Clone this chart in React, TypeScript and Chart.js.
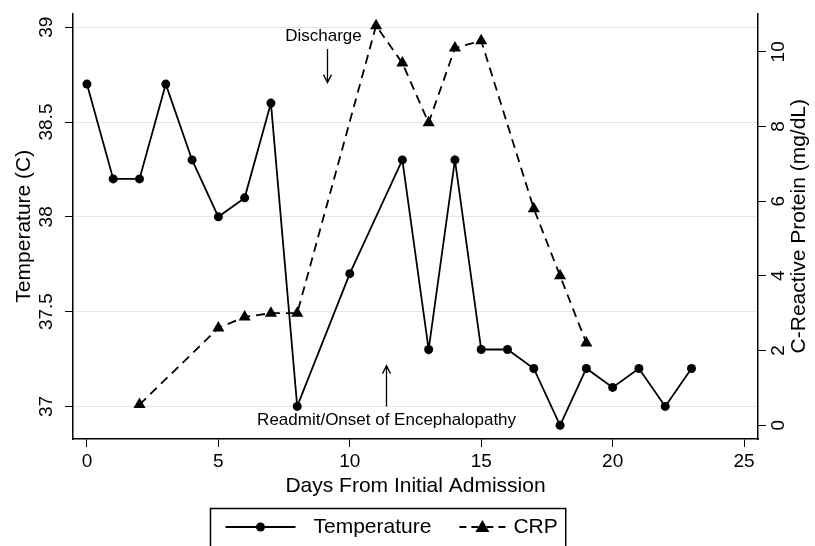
import React, { useEffect, useRef } from "react";
import { Chart, registerables } from "chart.js";

Chart.register(...registerables);

// ---- data ----
const tempDays = [0, 1, 2, 3, 4, 5, 6, 7, 8, 10, 12, 13, 14, 15, 16, 17, 18, 19, 20, 21, 22, 23];
const tempValues = [38.7, 38.2, 38.2, 38.7, 38.3, 38.0, 38.1, 38.6, 37.0, 37.7, 38.3, 37.3, 38.3, 37.3, 37.3, 37.2, 36.9, 37.2, 37.1, 37.2, 37.0, 37.2];
const crpDays = [2, 5, 6, 7, 8, 11, 12, 13, 14, 15, 17, 18, 19];
const crpValues = [0.55, 2.6, 2.9, 3.0, 3.0, 10.7, 9.7, 8.1, 10.1, 10.3, 5.8, 4.0, 2.2];
const dayTicks = [0, 5, 10, 15, 20, 25];
const tempTicks = [37, 37.5, 38, 38.5, 39];
const crpTicks = [0, 2, 4, 6, 8, 10];
const seriesNames = ["Temperature", "CRP"];
const axisTitles = ["Days From Initial Admission", "Temperature (C)", "C-Reactive Protein (mg/dL)"];
// annotations: label, text position (day, temperature), arrow (day, from temp, to temp)
const annotationLabels = ["Discharge", "Readmit/Onset of Encephalopathy"];
const annotationTextDay = [9.0, 11.4];
const annotationTextTemp = [38.953, 36.927];
const annotationArrowDay = [9.13, 11.38];
const annotationArrowFrom = [38.885, 37.0];
const annotationArrowTo = [38.708, 37.215];

const FONT = "'Liberation Sans', Arial, Helvetica, sans-serif";

const overlayPlugin = {
  id: "overlay",
  afterDraw(chart: any) {
    const ctx = chart.ctx;
    const xs = chart.scales.x;
    const ys = chart.scales.y;
    const area = chart.chartArea;
    ctx.save();
    ctx.fillStyle = "#000";
    ctx.strokeStyle = "#000";
    ctx.font = `17px ${FONT}`;
    ctx.textAlign = "center";
    ctx.textBaseline = "middle";
    for (let i = 0; i < annotationLabels.length; i++) {
      ctx.fillText(annotationLabels[i], xs.getPixelForValue(annotationTextDay[i]), ys.getPixelForValue(annotationTextTemp[i]));
      const ax = Math.round(xs.getPixelForValue(annotationArrowDay[i])) + 0.5;
      const y0 = ys.getPixelForValue(annotationArrowFrom[i]);
      const y1 = ys.getPixelForValue(annotationArrowTo[i]);
      ctx.lineWidth = 1.3;
      ctx.beginPath();
      ctx.moveTo(ax, y0);
      ctx.lineTo(ax, y1);
      const dir = y1 > y0 ? -1 : 1;
      ctx.moveTo(ax - 4, y1 + dir * 8);
      ctx.lineTo(ax, y1);
      ctx.lineTo(ax + 4, y1 + dir * 8);
      ctx.stroke();
    }
    // right axis title (reads bottom to top)
    ctx.save();
    ctx.translate(799, (area.top + area.bottom) / 2);
    ctx.rotate(-Math.PI / 2);
    ctx.font = `21px ${FONT}`;
    ctx.fillText(axisTitles[2], 0, 0);
    ctx.restore();
    // legend box
    const top = 508.5;
    const cy = 527;
    const left = 210.5;
    ctx.font = `21px ${FONT}`;
    ctx.textAlign = "left";
    const w1 = ctx.measureText(seriesNames[0]).width;
    const w2 = ctx.measureText(seriesNames[1]).width;
    let x = left + 15;
    const boxW = 15 + 70 + 18 + w1 + 28 + 46 + 8 + w2 + 8;
    ctx.lineWidth = 1.5;
    ctx.strokeRect(left, top, boxW, 60);
    // temperature item
    ctx.lineWidth = 1.8;
    ctx.setLineDash([]);
    ctx.beginPath();
    ctx.moveTo(x, cy);
    ctx.lineTo(x + 70, cy);
    ctx.stroke();
    ctx.beginPath();
    ctx.arc(x + 35, cy, 4.5, 0, Math.PI * 2);
    ctx.fill();
    x += 70 + 18;
    ctx.fillText(seriesNames[0], x, cy);
    x += w1 + 28;
    // CRP item: dashes on both sides of the triangle
    const tx = x + 23;
    ctx.lineWidth = 1.8;
    ctx.beginPath();
    ctx.moveTo(x, cy); ctx.lineTo(x + 7, cy);
    ctx.moveTo(x + 12, cy); ctx.lineTo(x + 19, cy);
    ctx.moveTo(x + 27, cy); ctx.lineTo(x + 34, cy);
    ctx.moveTo(x + 39, cy); ctx.lineTo(x + 46, cy);
    ctx.stroke();
    ctx.beginPath();
    ctx.moveTo(tx, cy - 7);
    ctx.lineTo(tx + 7, cy + 5);
    ctx.lineTo(tx - 7, cy + 5);
    ctx.closePath();
    ctx.fill();
    x += 46 + 8;
    ctx.fillText(seriesNames[1], x, cy);
    ctx.restore();
  },
};

export default function App() {
  const ref = useRef<HTMLCanvasElement | null>(null);
  useEffect(() => {
    if (!ref.current) return;
    const tickFont = { family: FONT, size: 19 };
    const titleFont = { family: FONT, size: 21 };
    const chart = new Chart(ref.current, {
      type: "line",
      data: {
        datasets: [
          {
            label: seriesNames[0],
            data: tempDays.map((d, i) => ({ x: d, y: tempValues[i] })),
            yAxisID: "y",
            borderColor: "#000",
            backgroundColor: "#000",
            borderWidth: 1.8,
            pointRadius: 4.5,
            pointStyle: "circle",
            pointBorderWidth: 0,
            tension: 0,
          },
          {
            label: seriesNames[1],
            data: crpDays.map((d, i) => ({ x: d, y: crpValues[i] })),
            yAxisID: "y1",
            borderColor: "#000",
            backgroundColor: "#000",
            borderWidth: 1.8,
            borderDash: [9, 6],
            pointRadius: 7,
            pointStyle: "triangle",
            pointBorderWidth: 0,
            tension: 0,
          },
        ],
      },
      options: {
        responsive: false,
        animation: false,
        layout: { padding: { top: 9, bottom: 47, left: 0, right: 0 } },
        plugins: { legend: { display: false }, tooltip: { enabled: false } },
        scales: {
          x: {
            type: "linear",
            min: -0.53,
            max: 25.53,
            afterBuildTicks: (s: any) => { s.ticks = dayTicks.map((v) => ({ value: v })); },
            afterFit: (s: any) => { s.height = 60; },
            grid: { drawOnChartArea: false, drawTicks: true, tickLength: 8, tickColor: "#000", color: "#000" },
            border: { display: true, color: "#000", width: 1.5 },
            ticks: { font: tickFont, color: "#000", padding: 3, maxRotation: 0, callback: (v: any) => String(v) },
            title: { display: true, text: axisTitles[0], font: titleFont, color: "#000", padding: { top: 0, bottom: 0 } },
          },
          y: {
            type: "linear",
            position: "left",
            min: 36.828,
            max: 39.073,
            afterBuildTicks: (s: any) => { s.ticks = tempTicks.map((v) => ({ value: v })); },
            afterFit: (s: any) => { s.width = 73; },
            grid: { color: "#e6e6e6", lineWidth: 1, tickColor: "#000", tickLength: 8, drawTicks: true },
            border: { display: true, color: "#000", width: 1.5 },
            ticks: { font: tickFont, color: "#000", minRotation: 90, maxRotation: 90, crossAlign: "center", padding: 0, callback: (v: any) => String(v) },
            title: { display: true, text: axisTitles[1], font: titleFont, color: "#000", padding: { top: 12, bottom: 0 } },
          },
          y1: {
            type: "linear",
            position: "right",
            min: -0.371,
            max: 11.03,
            afterBuildTicks: (s: any) => { s.ticks = crpTicks.map((v) => ({ value: v })); },
            afterFit: (s: any) => { s.width = 57; },
            grid: { drawOnChartArea: false, tickColor: "#000", color: "#000", tickLength: 8, drawTicks: true },
            border: { display: true, color: "#000", width: 1.5 },
            ticks: { font: tickFont, color: "#000", minRotation: 90, maxRotation: 90, crossAlign: "center", padding: 2, callback: (v: any) => String(v) },
            title: { display: false },
          },
        },
      },
      plugins: [overlayPlugin],
    } as any);
    return () => chart.destroy();
  }, []);
  return (
    <div style={{ position: "absolute", left: 0, top: 0, width: 815, height: 546, background: "#fff" }}>
      <canvas ref={ref} width={815} height={546} style={{ display: "block" }} />
    </div>
  );
}
